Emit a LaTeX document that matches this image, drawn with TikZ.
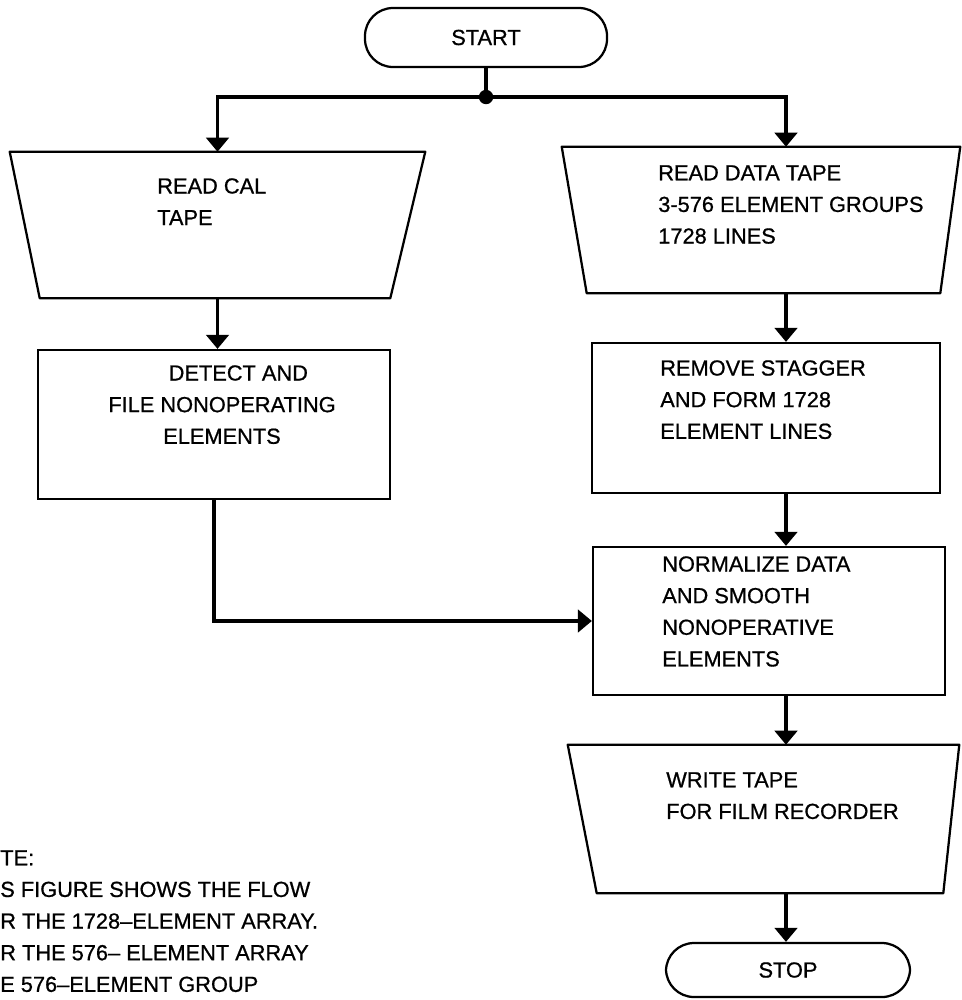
\documentclass[tikz,border=0pt]{standalone}
\usepackage{fontspec}
\setmainfont{Liberation Sans}
\usetikzlibrary{arrows.meta,fit,calc}

\begin{document}
\begin{tikzpicture}[x=0.025cm,y=-0.025cm,
	font=\fontsize{15.5}{22.5}\selectfont\addfontfeatures{FakeBold=0.8},
	frame/.style={draw,line width=1.6pt,inner sep=0pt},
	outline/.style={line width=1.6pt,line join=round},
	terminal/.style={frame,rounded corners=0.7cm},
	txt/.style={inner sep=0pt,anchor=north west,align=left},
	flow/.style={line width=2.4pt,-{Triangle[width=16pt,length=10pt]}},
	link/.style={line width=2.4pt}]
\useasboundingbox (0,0) rectangle (961,1000);
\coordinate (col) at (786,0);
\node[terminal,fit={(365,8) (607,67)}] (start) {};
\node at (start) {START};
\node[circle,fill,inner sep=0pt,minimum size=0.36cm] (split) at (486,97) {};
\node[inner sep=0pt,fit={(10,152) (425,298)}] (cal) {};
\draw[outline] (cal.north west) -- (cal.north east) -- ($(cal.south east)+(-35,0)$) -- ($(cal.south west)+(30,0)$) -- cycle;
\node[txt] (caltext) at (157,178) {READ CAL\\TAPE};
\node[inner sep=0pt,fit={(562,147) (960,293)}] (data) {};
\draw[outline] (data.north west) -- (data.north east) -- ($(data.south east)+(-20,0)$) -- ($(data.south west)+(25,0)$) -- cycle;
\node[txt] (datatext) at (658,165) {READ DATA TAPE\\3-576 ELEMENT GROUPS\\1728 LINES};
\node[frame,fit={(38,350) (390,499)}] (detect) {};
\node[txt,anchor=north,align=center] (detecttext) at (222,365) {\hspace*{1.5em}DETECT AND\\FILE NONOPERATING\\ELEMENTS};
\node[frame,fit={(592,343) (940,493)}] (remove) {};
\node[txt] (removetext) at (660,360) {REMOVE STAGGER\\AND FORM 1728\\ELEMENT LINES};
\node[frame,fit={(593,547) (945,695)}] (norm) {};
\node[txt] (normtext) at (662,556) {NORMALIZE DATA\\AND SMOOTH\\NONOPERATIVE\\ELEMENTS};
\node[inner sep=0pt,fit={(568,745) (959,893)}] (write) {};
\draw[outline] (write.north west) -- (write.north east) -- ($(write.south east)+(-16,0)$) -- ($(write.south west)+(29,0)$) -- cycle;
\node[txt] (writetext) at (666,772) {WRITE TAPE\\FOR FILM RECORDER};
\node[terminal,fit={(666,943) (910,997)}] (stop) {};
\node at (stop) {STOP};
\node[txt] (note) at (0,850) {TE:\\S FIGURE SHOWS THE FLOW\\R THE 1728–ELEMENT ARRAY.\\R THE 576– ELEMENT ARRAY\\E 576–ELEMENT GROUP};
\draw[link] (start) -- (split);
\draw[flow] (split) -| (cal.north);
\draw[flow] (split) -| (col |- data.north);
\draw[flow] (cal.south) -- (cal.south |- detect.north);
\draw[flow] (col |- data.south) -- (col |- remove.north);
\draw[flow] (col |- remove.south) -- (col |- norm.north);
\draw[flow] (detect.south) |- (norm.west);
\draw[flow] (col |- norm.south) -- (col |- write.north);
\draw[flow] (col |- write.south) -- (col |- stop.north);
\end{tikzpicture}
\end{document}
